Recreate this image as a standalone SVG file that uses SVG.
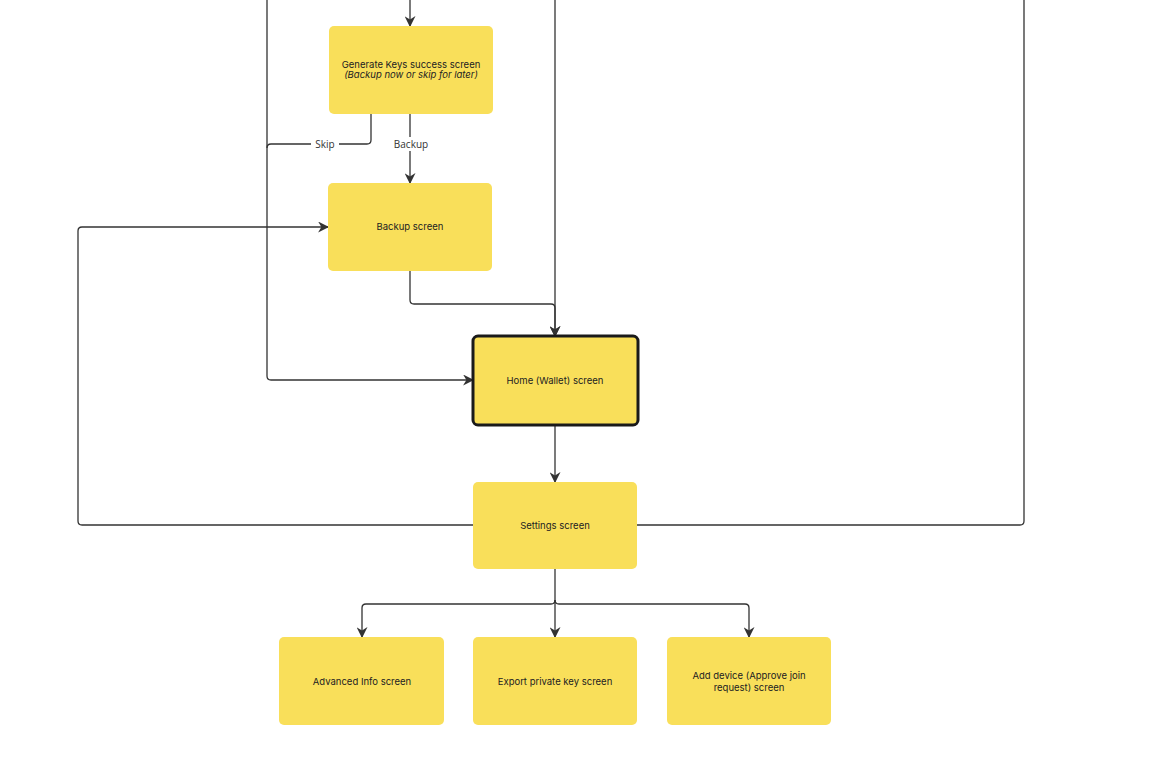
<svg xmlns="http://www.w3.org/2000/svg" width="1163" height="761" viewBox="0 0 1163 761">
<defs>
<marker id="ah" viewBox="0 0 10 10" refX="9" refY="5" markerWidth="11" markerHeight="11" markerUnits="userSpaceOnUse" orient="auto">
<path d="M0,0 L10,5 L0,10 L3,5 Z" fill="#333"/>
</marker>
<style>
.n{fill:#F9DF5A;}
.hb{fill:#F9DF5A;stroke:#1a1a1a;stroke-width:3;}
.t{font-family:Inter,"Liberation Sans",sans-serif;font-size:9.5px;fill:#222;text-anchor:middle;}
.ti{font-style:italic;}
.c{fill:none;stroke:#333;stroke-width:1.3;}
.a{marker-end:url(#ah);}
.lb{font-family:"Open Sans","Liberation Sans",sans-serif;font-size:10px;fill:#333;text-anchor:middle;}
</style>
</defs>
<rect width="1163" height="761" fill="#fff"/>
<g id="connectors">
<path class="c a" d="M410,0 V26"/>
<path class="c" d="M371,114 V140 Q371,144 367,144 H271 Q267,144 267,148"/>
<path class="c a" d="M410,114 V183"/>
<path class="c a" d="M267,0 V376 Q267,380 271,380 H473"/>
<path class="c a" d="M410,271 V300 Q410,304 414,304 H551 Q555,304 555,308 V336"/>
<path class="c a" d="M555,0 V336"/>
<path class="c a" d="M555,425 V482"/>
<path class="c a" d="M473,525 H82 Q78,525 78,521 V231 Q78,227 82,227 H328"/>
<path class="c" d="M637,525 H1020 Q1024,525 1024,521 V0"/>
<path class="c a" d="M555,569 V637"/>
<path class="c a" d="M555,600 Q555,604 551,604 H366 Q362,604 362,608 V637"/>
<path class="c a" d="M555,600 Q555,604 559,604 H745 Q749,604 749,608 V637"/>
<rect x="311" y="137" width="28" height="14" fill="#fff"/>
<text class="lb" x="325" y="148">Skip</text>
<rect x="390" y="137" width="40" height="14" fill="#fff"/>
<text class="lb" x="411" y="148">Backup</text>
</g>
<g id="gen-keys">
<rect class="n" x="329" y="26" width="164" height="88" rx="5"/>
<text class="t" x="411" y="68">Generate Keys success screen</text>
<text class="t ti" x="411" y="78">(Backup now or skip for later)</text>
</g>
<g id="backup">
<rect class="n" x="328" y="183" width="164" height="88" rx="5"/>
<text class="t" x="410" y="230">Backup screen</text>
</g>
<g id="home">
<rect class="hb" x="473" y="336" width="165" height="89" rx="5"/>
<text class="t" x="555" y="384">Home (Wallet) screen</text>
</g>
<g id="settings">
<rect class="n" x="473" y="482" width="164" height="87" rx="5"/>
<text class="t" x="555" y="529">Settings screen</text>
</g>
<g id="advanced">
<rect class="n" x="279" y="637" width="165" height="88" rx="5"/>
<text class="t" x="362" y="685">Advanced Info screen</text>
</g>
<g id="export">
<rect class="n" x="473" y="637" width="164" height="88" rx="5"/>
<text class="t" x="555" y="685">Export private key screen</text>
</g>
<g id="add-device">
<rect class="n" x="667" y="637" width="164" height="88" rx="5"/>
<text class="t" x="749" y="679">Add device (Approve join</text>
<text class="t" x="749" y="691">request) screen</text>
</g>
</svg>
